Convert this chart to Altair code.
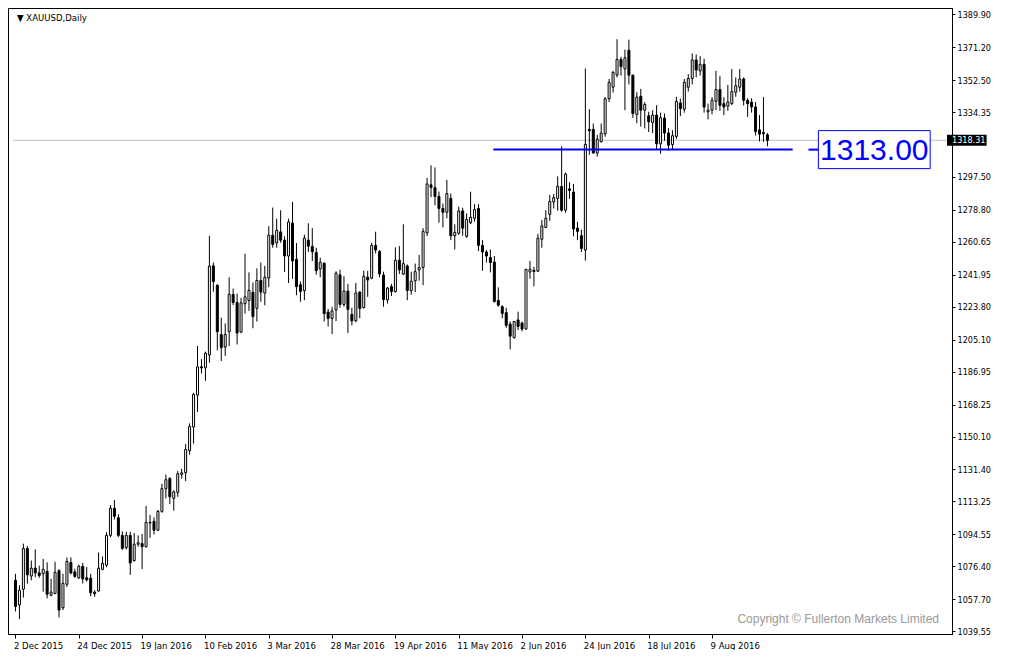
import altair as alt
import pandas as pd

# ---------------- data (XAUUSD daily, MT4) ----------------
opens = [1068.5, 1054.5, 1063.4, 1086.5, 1070.9, 1075.4, 1072.7, 1072.2, 1073.5, 1060.0,
         1061.0, 1074.0, 1052.9, 1066.2, 1078.6, 1073.2, 1069.9, 1076.4, 1069.9, 1069.7,
         1061.8, 1062.4, 1074.7, 1077.1, 1094.0, 1109.4, 1104.0, 1094.0, 1087.0, 1094.0,
         1079.7, 1089.0, 1089.3, 1087.6, 1101.4, 1102.0, 1096.9, 1107.6, 1120.5, 1126.2,
         1115.0, 1118.4, 1128.6, 1129.6, 1142.1, 1155.5, 1173.6, 1189.7, 1189.1, 1196.4,
         1247.0, 1236.0, 1208.0, 1200.9, 1209.6, 1230.8, 1226.2, 1209.4, 1225.5, 1227.3,
         1232.0, 1222.9, 1238.7, 1231.5, 1240.1, 1264.4, 1260.0, 1266.3, 1261.6, 1252.6,
         1271.3, 1250.7, 1236.3, 1232.9, 1261.6, 1258.0, 1254.6, 1245.2, 1248.5, 1220.8,
         1217.2, 1221.9, 1241.9, 1225.1, 1232.7, 1219.5, 1215.8, 1232.1, 1223.3, 1240.6,
         1240.0, 1258.6, 1255.1, 1241.8, 1227.7, 1235.2, 1232.4, 1250.2, 1242.3, 1246.9,
         1233.0, 1238.5, 1244.7, 1246.1, 1265.7, 1293.0, 1291.5, 1286.4, 1279.6, 1277.4,
         1285.3, 1264.1, 1265.5, 1278.2, 1263.8, 1271.5, 1274.0, 1279.6, 1258.6, 1254.9,
         1251.7, 1249.2, 1227.3, 1223.8, 1220.4, 1213.9, 1206.2, 1216.3, 1214.5, 1211.2,
         1243.5, 1244.5, 1244.0, 1262.1, 1268.8, 1276.2, 1283.3, 1285.3, 1292.1, 1278.6,
         1290.7, 1288.9, 1268.4, 1264.1, 1256.0, 1324.5, 1324.5, 1311.0, 1317.5, 1322.0,
         1341.9, 1348.4, 1355.4, 1364.2, 1358.8, 1369.4, 1355.3, 1333.0, 1343.3, 1335.4,
         1332.2, 1328.4, 1332.6, 1316.3, 1330.9, 1322.4, 1315.9, 1320.5, 1339.5, 1335.9,
         1348.4, 1353.4, 1363.9, 1357.7, 1361.4, 1334.5, 1335.4, 1340.4, 1347.1, 1339.1,
         1337.6, 1339.1, 1345.6, 1348.4, 1353.1, 1341.0, 1340.0, 1337.2, 1324.2, 1322.7,
         1321.4]
highs = [1072.2, 1065.7, 1089.3, 1088.0, 1079.7, 1086.0, 1076.8, 1080.6, 1078.7, 1069.3,
         1079.0, 1074.7, 1072.2, 1081.5, 1081.5, 1075.1, 1077.4, 1078.3, 1076.0, 1072.2,
         1062.9, 1084.3, 1082.0, 1095.8, 1111.2, 1114.0, 1106.0, 1096.3, 1096.0, 1096.0,
         1095.4, 1094.0, 1094.8, 1110.7, 1105.6, 1104.2, 1108.4, 1123.3, 1128.5, 1127.1,
         1119.6, 1130.5, 1131.8, 1145.8, 1157.6, 1175.0, 1201.5, 1194.0, 1198.3, 1264.1,
         1248.9, 1236.5, 1217.6, 1214.3, 1240.5, 1234.1, 1231.2, 1228.8, 1253.9, 1243.3,
         1237.6, 1245.6, 1248.9, 1247.0, 1269.5, 1280.1, 1273.8, 1278.6, 1263.8, 1273.8,
         1283.3, 1260.0, 1238.1, 1264.7, 1271.2, 1268.4, 1257.3, 1251.7, 1248.9, 1222.6,
         1223.8, 1243.9, 1244.8, 1241.1, 1236.8, 1223.2, 1237.3, 1232.6, 1244.4, 1244.1,
         1260.1, 1266.4, 1256.0, 1243.7, 1235.0, 1236.8, 1257.5, 1258.2, 1270.6, 1247.8,
         1243.7, 1248.3, 1253.2, 1268.4, 1296.9, 1304.1, 1302.9, 1289.2, 1282.4, 1295.8,
         1288.1, 1270.6, 1280.6, 1280.0, 1276.8, 1289.1, 1282.0, 1282.0, 1261.6, 1256.0,
         1256.3, 1252.6, 1234.8, 1224.7, 1223.2, 1215.4, 1215.8, 1221.0, 1215.4, 1245.4,
         1249.8, 1246.5, 1265.2, 1273.1, 1278.6, 1287.3, 1287.9, 1297.8, 1314.9, 1300.0,
         1294.5, 1293.5, 1272.0, 1267.5, 1359.1, 1335.9, 1327.8, 1321.4, 1327.8, 1342.8,
         1353.1, 1357.7, 1375.7, 1365.7, 1369.8, 1375.4, 1355.5, 1345.6, 1347.5, 1340.0,
         1334.5, 1335.4, 1338.2, 1334.0, 1333.5, 1325.2, 1324.0, 1343.0, 1342.0, 1353.1,
         1355.9, 1367.6, 1367.0, 1366.1, 1364.6, 1339.1, 1342.8, 1357.7, 1354.9, 1342.8,
         1349.7, 1358.7, 1354.0, 1358.7, 1354.0, 1342.2, 1342.2, 1340.0, 1332.6, 1342.8,
         1322.4]
lows = [1050.8, 1046.5, 1058.7, 1066.6, 1068.5, 1070.3, 1069.9, 1062.0, 1058.2, 1059.4,
        1060.6, 1047.4, 1051.6, 1064.7, 1071.8, 1069.9, 1069.3, 1066.6, 1067.7, 1059.4,
        1059.2, 1062.0, 1074.2, 1075.9, 1093.0, 1103.0, 1093.0, 1085.8, 1086.0, 1071.6,
        1079.0, 1087.6, 1074.9, 1087.0, 1092.6, 1094.5, 1096.5, 1106.8, 1115.0, 1111.8,
        1108.0, 1115.9, 1126.2, 1124.8, 1139.8, 1146.1, 1164.0, 1185.9, 1181.8, 1192.0,
        1232.3, 1199.0, 1193.0, 1195.9, 1201.5, 1224.7, 1202.4, 1208.8, 1219.9, 1221.4,
        1211.6, 1215.4, 1226.6, 1224.6, 1234.9, 1257.3, 1257.3, 1260.1, 1243.5, 1237.3,
        1239.6, 1230.3, 1226.6, 1227.5, 1254.9, 1249.8, 1242.0, 1240.5, 1215.4, 1212.6,
        1208.3, 1215.7, 1223.2, 1223.8, 1208.9, 1213.2, 1215.0, 1217.2, 1222.8, 1229.4,
        1239.4, 1254.1, 1240.5, 1223.8, 1225.6, 1229.9, 1231.8, 1242.4, 1241.8, 1227.5,
        1230.6, 1232.1, 1238.6, 1236.0, 1264.0, 1286.0, 1281.4, 1271.5, 1268.9, 1274.0,
        1261.6, 1256.3, 1264.6, 1264.1, 1262.9, 1270.7, 1272.1, 1255.4, 1244.2, 1248.9,
        1243.3, 1226.1, 1223.8, 1217.2, 1211.8, 1199.6, 1205.8, 1210.6, 1209.8, 1210.6,
        1239.6, 1235.4, 1243.5, 1257.3, 1268.4, 1272.6, 1279.6, 1278.3, 1277.7, 1277.1,
        1285.0, 1263.8, 1261.6, 1254.9, 1250.0, 1310.0, 1310.6, 1309.0, 1317.0, 1320.3,
        1340.0, 1345.4, 1354.0, 1355.0, 1335.4, 1350.0, 1331.0, 1328.0, 1326.1, 1325.0,
        1323.0, 1322.4, 1313.0, 1310.6, 1318.0, 1312.5, 1313.0, 1319.0, 1332.0, 1334.0,
        1346.0, 1350.0, 1354.0, 1355.0, 1334.0, 1330.2, 1333.0, 1335.4, 1335.0, 1332.6,
        1335.0, 1338.3, 1343.0, 1346.0, 1338.0, 1331.6, 1334.0, 1321.0, 1317.7, 1317.4,
        1314.9]
closes = [1053.6, 1062.9, 1086.5, 1071.6, 1075.4, 1072.7, 1071.2, 1074.7, 1060.6, 1061.8,
          1073.0, 1051.6, 1066.8, 1079.2, 1072.7, 1070.7, 1076.4, 1069.3, 1068.8, 1061.4,
          1060.9, 1075.4, 1078.1, 1094.0, 1109.4, 1104.8, 1094.0, 1086.6, 1094.0, 1078.3,
          1089.0, 1089.8, 1087.6, 1101.4, 1101.0, 1096.9, 1107.6, 1120.5, 1125.6, 1115.9,
          1118.7, 1129.0, 1129.5, 1142.7, 1155.8, 1174.0, 1189.7, 1189.1, 1197.4, 1246.9,
          1238.1, 1209.6, 1200.6, 1208.0, 1230.8, 1226.2, 1208.9, 1226.0, 1229.4, 1233.1,
          1218.2, 1238.7, 1232.1, 1240.5, 1264.4, 1259.2, 1267.2, 1261.6, 1252.6, 1271.9,
          1249.8, 1235.2, 1232.5, 1262.7, 1258.2, 1255.0, 1244.3, 1248.9, 1219.9, 1217.2,
          1221.4, 1242.9, 1225.1, 1232.7, 1222.3, 1215.8, 1231.6, 1222.8, 1241.1, 1239.0,
          1258.6, 1256.0, 1242.4, 1227.9, 1234.4, 1232.4, 1250.2, 1244.7, 1248.3, 1233.0,
          1238.3, 1243.7, 1246.1, 1266.6, 1293.5, 1291.5, 1286.4, 1279.6, 1277.4, 1288.0,
          1264.1, 1266.0, 1278.2, 1268.4, 1273.4, 1274.6, 1279.0, 1258.6, 1254.9, 1252.6,
          1248.9, 1226.8, 1224.7, 1220.0, 1213.2, 1207.1, 1215.4, 1212.6, 1211.2, 1245.0,
          1245.0, 1243.8, 1262.7, 1269.7, 1274.0, 1283.6, 1285.7, 1292.2, 1278.6, 1299.1,
          1289.8, 1268.0, 1266.6, 1256.9, 1316.0, 1323.7, 1311.1, 1318.9, 1322.4, 1341.9,
          1351.2, 1356.8, 1364.2, 1360.1, 1365.1, 1355.3, 1333.5, 1342.8, 1335.4, 1338.6,
          1328.8, 1332.6, 1316.3, 1331.1, 1322.4, 1315.5, 1320.9, 1340.4, 1336.3, 1351.2,
          1353.4, 1363.9, 1358.2, 1361.4, 1337.2, 1335.4, 1341.0, 1347.1, 1338.2, 1337.2,
          1340.0, 1345.9, 1349.3, 1353.1, 1341.0, 1339.1, 1337.2, 1323.3, 1321.8, 1322.0,
          1318.3]

tick_index = [0, 16, 32, 48, 64, 80, 96, 112, 128, 144, 160, 176]
tick_labels = ["2 Dec 2015", "24 Dec 2015", "19 Jan 2016", "10 Feb 2016", "3 Mar 2016",
               "28 Mar 2016", "19 Apr 2016", "11 May 2016", "2 Jun 2016", "24 Jun 2016",
               "18 Jul 2016", "9 Aug 2016"]
# the 1315.65 level sits under the last-price tag in the reference
price_ticks = [1389.90, 1371.20, 1352.50, 1334.35, 1297.50, 1278.80, 1260.65,
               1241.95, 1223.80, 1205.10, 1186.95, 1168.25, 1150.10, 1131.40, 1113.25,
               1094.55, 1076.40, 1057.70, 1039.55]
support_level = 1313.00
support_start_index = 120.75
last_price = 1318.31
symbol_title = "\u25bc XAUUSD,Daily"
copyright_text = "Copyright \u00a9 Fullerton Markets Limited"

# ---------------- geometry ----------------
W, H = 944, 626
PX_PER_BAR = 4
x_min = -0.625
x_max = x_min + W / PX_PER_BAR
y_min, y_max = 1038.0, 1393.4
ppp = (y_max - y_min) / H  # price per pixel

FONT = "DejaVu Sans Condensed, Liberation Sans, sans-serif"

xs = alt.Scale(domain=[x_min, x_max], nice=False, zero=False)
ys = alt.Scale(domain=[y_min, y_max], nice=False, zero=False)

label_expr = "''"
for idx, lab in reversed(list(zip(tick_index, tick_labels))):
    label_expr = f"datum.value == {idx} ? '{lab}' : ({label_expr})"

x_axis = alt.Axis(values=tick_index, labelExpr=label_expr, title=None, grid=False,
                  labelAlign="left", labelFont=FONT, labelFontSize=9.5, labelColor="black",
                  tickSize=4, tickColor="black", domainColor="black", labelPadding=2,
                  labelOverlap=False, labelFlush=False, labelOffset=-2)
y_axis = alt.Axis(values=price_ticks, format=".2f", orient="right", title=None, grid=False,
                  labelFont=FONT, labelFontSize=9, labelColor="black", tickSize=3,
                  tickColor="black", domainColor="black", labelPadding=2,
                  labelOverlap=False, labelFlush=False)


def X(field):
    return alt.X(field, type="quantitative", scale=xs, axis=x_axis)


def Y(field):
    return alt.Y(field, type="quantitative", scale=ys, axis=y_axis)


candles = pd.DataFrame({
    "i": list(range(len(opens))),
    "open": opens, "high": highs, "low": lows, "close": closes,
})

# current price line (grey)
bid_df = pd.DataFrame({"x0": [x_min], "x1": [x_max], "p": [last_price]})
bid_line = alt.Chart(bid_df).mark_rule(color="#C0C0C0", strokeWidth=1).encode(
    x=X("x0"), x2="x1", y=Y("p"))

wicks = alt.Chart(candles).mark_rule(color="black", strokeWidth=1).encode(
    x=X("i"), y=Y("low"), y2="high")

bodies = alt.Chart(candles).mark_bar(size=2, stroke="black", strokeWidth=1).encode(
    x=X("i"), y=Y("open"), y2="close",
    fill=alt.condition("datum.close >= datum.open", alt.value("white"), alt.value("black")))

# support line + label box
box_right = x_max - 17 / PX_PER_BAR
box_left = box_right - 113 / PX_PER_BAR
seg_df = pd.DataFrame({
    "x0": [support_start_index, box_left - 10 / PX_PER_BAR],
    "x1": [box_left - 26 / PX_PER_BAR, box_left],
    "p": [support_level, support_level],
})
support = alt.Chart(seg_df).mark_rule(color="#0000FF", strokeWidth=2).encode(
    x=X("x0"), x2="x1", y=Y("p"))

box_df = pd.DataFrame({
    "x0": [box_left], "x1": [box_right],
    "p0": [support_level - 19 * ppp], "p1": [support_level + 19 * ppp],
    "xc": [(box_left + box_right) / 2], "p": [support_level],
    "txt": [f"{support_level:.2f}"],
})
box = alt.Chart(box_df).mark_rect(fill="white", stroke="#0000FF", strokeWidth=1).encode(
    x=X("x0"), x2="x1", y=Y("p0"), y2="p1")
box_text = alt.Chart(box_df).mark_text(
    font="Liberation Sans, Arial, sans-serif", fontSize=30, color="#0000FF",
    align="center", baseline="middle", dy=1).encode(
    x=X("xc"), y=Y("p"), text="txt:N")

# last price tag on the axis
tag_df = pd.DataFrame({
    "x0": [x_max], "x1": [x_max + 40 / PX_PER_BAR],
    "p0": [last_price - 5.5 * ppp], "p1": [last_price + 5.5 * ppp],
    "p": [last_price], "txt": [f"{last_price:.2f}"],
})
tag = alt.Chart(tag_df).mark_rect(fill="black").encode(
    x=X("x0"), x2="x1", y=Y("p0"), y2="p1")
tag_text = alt.Chart(tag_df).mark_text(
    font=FONT, fontSize=9, color="white", align="left", baseline="middle", dx=5).encode(
    x=X("x0"), y=Y("p"), text="txt:N")

# title & copyright
title_df = pd.DataFrame({"x": [x_min], "p": [y_max], "txt": [symbol_title]})
title = alt.Chart(title_df).mark_text(
    font=FONT, fontSize=9.5, color="black", align="left", baseline="middle",
    dx=4, dy=10).encode(x=X("x"), y=Y("p"), text="txt:N")

copy_df = pd.DataFrame({"x": [x_max], "p": [y_min], "txt": [copyright_text]})
copyright = alt.Chart(copy_df).mark_text(
    font="Liberation Sans, Arial, sans-serif", fontSize=12, color="#999999",
    align="right", baseline="middle", dx=-8, dy=-15).encode(
    x=X("x"), y=Y("p"), text="txt:N")

chart = alt.layer(
    bid_line, wicks, bodies, support, box, box_text, tag, tag_text, title, copyright
).properties(
    width=W, height=H, padding=0, background="white"
).configure_view(
    stroke="black", strokeWidth=1
)

chart.save("out.html", embed_options={"renderer": "svg", "actions": False})
